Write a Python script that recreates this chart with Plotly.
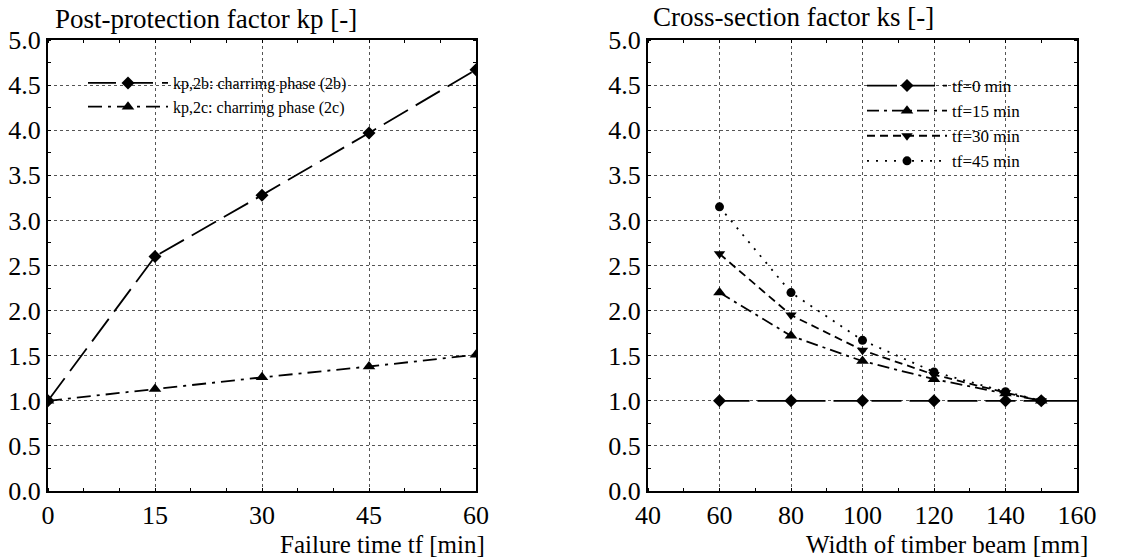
import plotly.graph_objects as go

# Post-protection factor kp vs failure time
tf_min = [0, 15, 30, 45, 60]
kp_2b = [1.0, 2.6, 3.28, 3.97, 4.67]
kp_2c = [1.0, 1.13, 1.26, 1.38, 1.51]

# Cross-section factor ks vs beam width
width_mm = [60, 80, 100, 120, 140, 150]
ks_tf0 = [1.0, 1.0, 1.0, 1.0, 1.0, 1.0]
ks_tf15 = [2.2, 1.72, 1.44, 1.24, 1.08, 1.0]
ks_tf30 = [2.63, 1.95, 1.56, 1.29, 1.09, 1.0]
ks_tf45 = [3.15, 2.2, 1.67, 1.32, 1.1, 1.0]

left_ticks = [0, 15, 30, 45, 60]
right_ticks = [40, 60, 80, 100, 120, 140, 160]
y_ticks = [0.0, 0.5, 1.0, 1.5, 2.0, 2.5, 3.0, 3.5, 4.0, 4.5, 5.0]

FONT = "Liberation Serif, Times New Roman, serif"
W, H = 1138, 559
TOP, BOTTOM = 40, 491
PH = BOTTOM - TOP

fig = go.Figure()

lw = 1.8
fig.add_trace(go.Scatter(
    x=tf_min, y=kp_2b, name="kp,2b: charrimg phase (2b)", mode="lines+markers",
    line=dict(color="black", width=lw, dash="28px,9px"),
    marker=dict(symbol="diamond", size=10, color="black"),
    xaxis="x", yaxis="y", legend="legend"))
fig.add_trace(go.Scatter(
    x=tf_min, y=kp_2c, name="kp,2c: charrimg phase (2c)", mode="lines+markers",
    line=dict(color="black", width=lw, dash="14px,6px,3px,6px"),
    marker=dict(symbol="triangle-up", size=11, color="black"),
    xaxis="x", yaxis="y", legend="legend"))

right_series = [
    ("tf=0 min", ks_tf0, "30px,8px", "diamond", 10),
    ("tf=15 min", ks_tf15, "12px,5px,3px,5px", "triangle-up", 11),
    ("tf=30 min", ks_tf30, "8px,5px", "triangle-down", 10),
    ("tf=45 min", ks_tf45, "2px,7px", "circle", 9),
]
for name, vals, dash, sym, size in right_series:
    fig.add_trace(go.Scatter(
        x=width_mm, y=vals, name=name, mode="lines+markers",
        line=dict(color="black", width=lw, dash=dash),
        marker=dict(symbol=sym, size=size, color="black"),
        xaxis="x2", yaxis="y2", legend="legend2"))

# The tf=0 line runs on to the right frame
fig.add_trace(go.Scatter(
    x=[width_mm[-1], right_ticks[-1]], y=[ks_tf0[-1], ks_tf0[-1]], mode="lines",
    line=dict(color="black", width=lw), showlegend=False,
    xaxis="x2", yaxis="y2", hoverinfo="skip"))

tickfont = dict(family=FONT, size=26, color="black")
grid = dict(showgrid=True, gridcolor="#555", griddash="dot", gridwidth=1,
            showline=True, linecolor="black", linewidth=2, mirror="allticks",
            ticks="", zeroline=False, tickfont=tickfont, automargin=False)
minor_y = dict(dtick=0.25, ticks="inside", ticklen=3, tickcolor="black", showgrid=False)


def fx(v):
    return v / W


def fy(v):
    return 1 - (v - TOP) / PH


fig.update_layout(
    width=W, height=H,
    margin=dict(l=0, r=0, t=TOP, b=H - BOTTOM, autoexpand=False),
    paper_bgcolor="white", plot_bgcolor="white",
    font=dict(family=FONT, color="black"),
    xaxis=dict(domain=[fx(48), fx(476)], range=[0, 60], tickvals=left_ticks,
               minor=dict(dtick=5, ticks="inside", ticklen=3, tickcolor="black", showgrid=False),
               anchor="y", **grid),
    yaxis=dict(domain=[0, 1], range=[0, 5], tickvals=y_ticks, ticktext=[f"{v:.1f}" for v in y_ticks],
               minor=minor_y, anchor="x", **grid),
    xaxis2=dict(domain=[fx(648), fx(1077)], range=[40, 160], tickvals=right_ticks,
                minor=dict(dtick=10, ticks="inside", ticklen=3, tickcolor="black", showgrid=False),
                anchor="y2", **grid),
    yaxis2=dict(domain=[0, 1], range=[0, 5], tickvals=y_ticks, ticktext=[f"{v:.1f}" for v in y_ticks],
                minor=minor_y, anchor="x2", **grid),
    legend=dict(x=fx(83), y=fy(66), xanchor="left", yanchor="top",
                bgcolor="rgba(255,255,255,0)", font=dict(family=FONT, size=16, color="black"),
                tracegroupgap=0, itemwidth=80),
    legend2=dict(x=fx(862), y=fy(68), xanchor="left", yanchor="top",
                 bgcolor="rgba(255,255,255,0)", font=dict(family=FONT, size=17, color="black"),
                 tracegroupgap=0, itemwidth=80),
    showlegend=True,
    annotations=[
        dict(text="Post-protection factor kp [-]", xref="paper", yref="paper",
             x=fx(53), y=fy(19), showarrow=False, xanchor="left", yanchor="middle",
             font=dict(family=FONT, size=27, color="black")),
        dict(text="Cross-section factor ks [-]", xref="paper", yref="paper",
             x=fx(651), y=fy(17), showarrow=False, xanchor="left", yanchor="middle",
             font=dict(family=FONT, size=27, color="black")),
        dict(text="Failure time tf [min]", xref="paper", yref="paper",
             x=fx(487), y=fy(544), showarrow=False, xanchor="right", yanchor="middle",
             font=dict(family=FONT, size=25, color="black")),
        dict(text="Width of timber beam [mm]", xref="paper", yref="paper",
             x=fx(1090), y=fy(544), showarrow=False, xanchor="right", yanchor="middle",
             font=dict(family=FONT, size=25, color="black")),
    ],
)

fig.write_html("out.html")
